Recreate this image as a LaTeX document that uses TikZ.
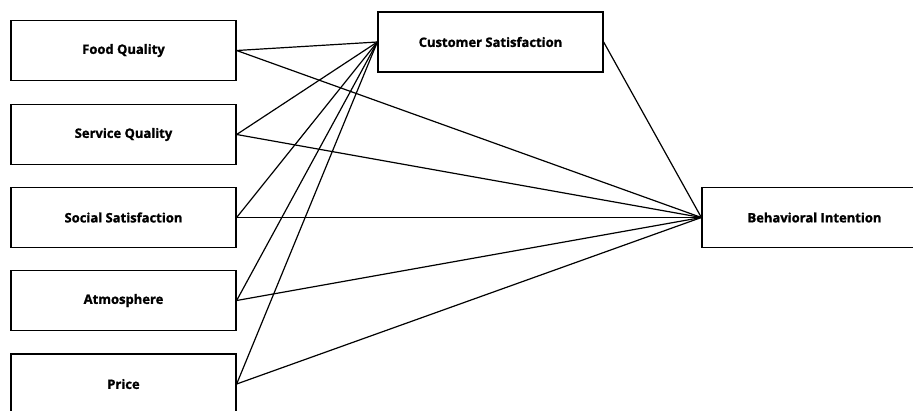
\documentclass[tikz,border=0pt]{standalone}
\usepackage{fontspec}
\setmainfont{Open Sans}
\newfontfamily\boxfont[BoldFont={* Bold}, BoldFeatures={FakeBold=1.2}]{Open Sans}
\tikzset{
  factor/.style={draw, line width=1.3pt, fill=white, minimum width=225pt, minimum height=60pt,
    inner sep=0pt, font=\boxfont\bfseries\fontsize{13}{15}\selectfont},
  path/.style={line width=1.2pt}
}
\begin{document}
\begin{tikzpicture}[x=1pt, y=-1pt]
        \useasboundingbox (0,0) rectangle (913,410);

        % Predictors (left column)
        \node[factor] (food) at (123.5,50.5) {Food Quality};
        \node[factor] (service) at (123.5,134.5) {Service Quality};
        \node[factor] (social) at (123.5,217.5) {Social Satisfaction};
        \node[factor] (atmos) at (123.5,300.5) {Atmosphere};
        \node[factor] (price) at (123.5,384) {Price};

        % Mediator and outcome
        \node[factor] (satis) at (490.5,42) {Customer Satisfaction};
        \node[factor] (intent) at (814.5,217.5) {Behavioral Intention};

        % Predictor -> mediator and predictor -> outcome
        \foreach \f in {food,service,social,atmos,price}{
          \draw[path] (\f.east) -- (satis.west);
          \draw[path] (\f.east) -- (intent.west);
        }

        % Mediator -> outcome
        \draw[path] (satis.east) -- (intent.west);

\end{tikzpicture}
\end{document}
